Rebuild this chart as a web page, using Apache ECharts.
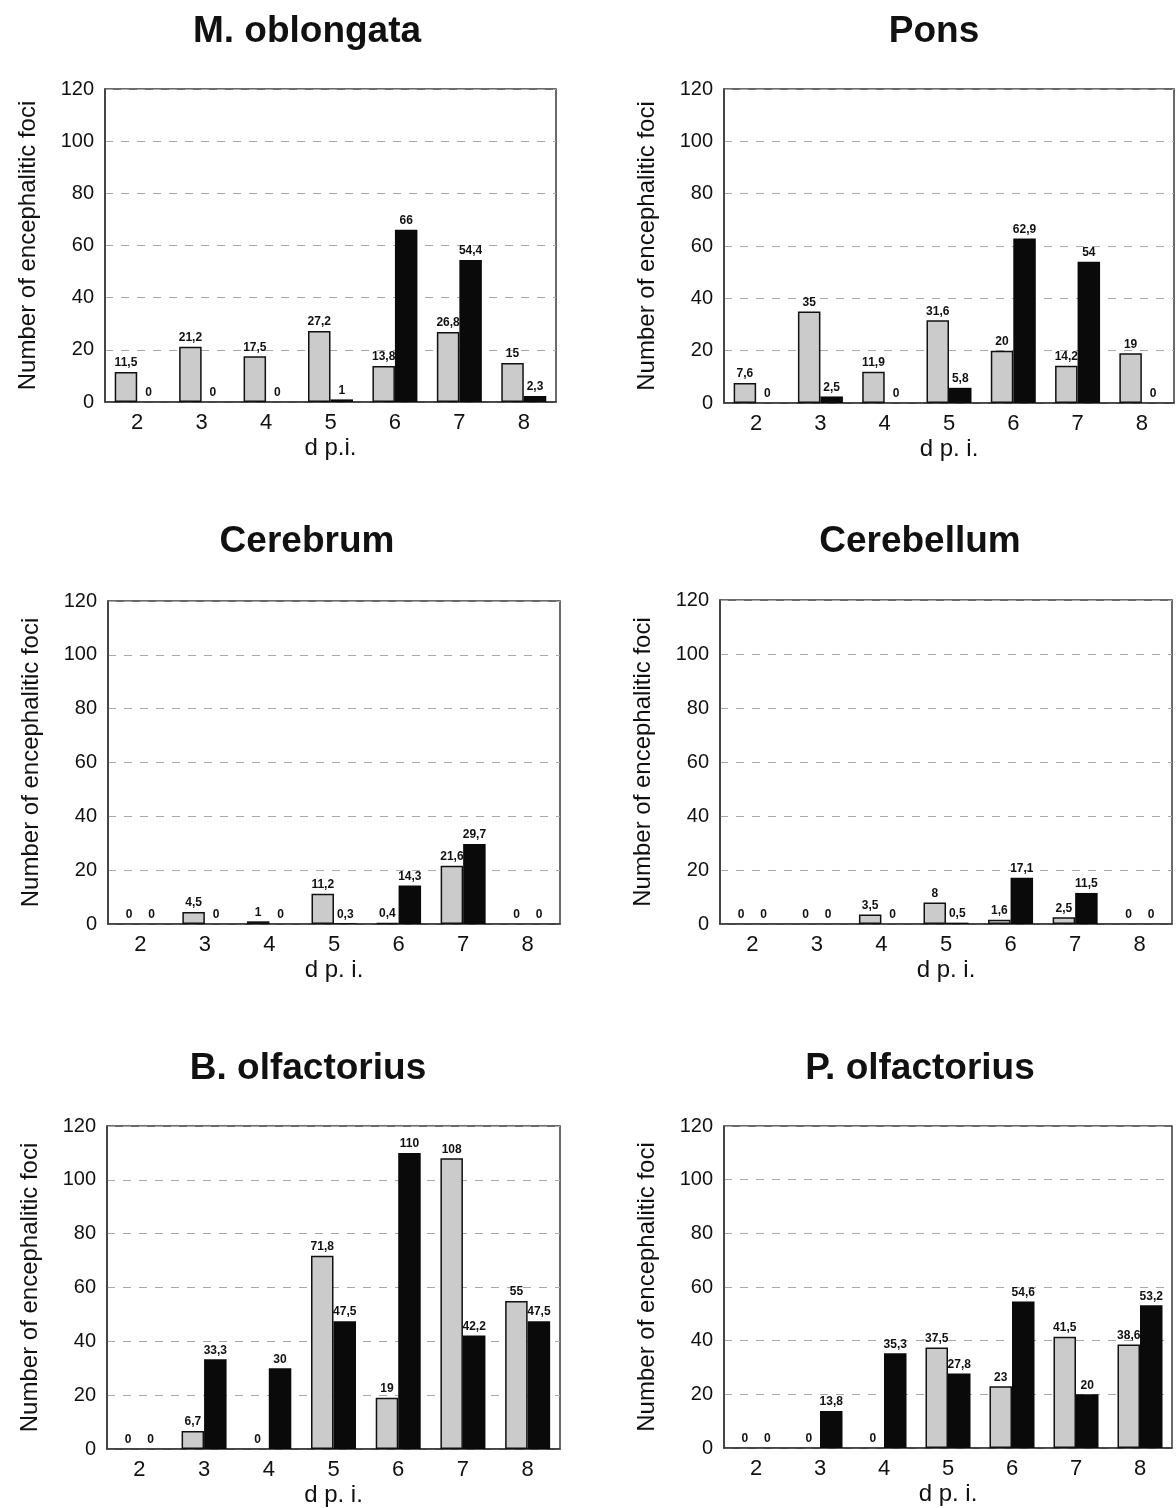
<!DOCTYPE html>
<html>
<head>
<meta charset="utf-8">
<script src="https://cdn.jsdelivr.net/npm/echarts@6/dist/echarts.min.js"></script>
<style>
  html, body { margin: 0; padding: 0; background: #ffffff; }
  #chart { width: 1176px; height: 1508px; }
</style>
</head>
<body>
<div id="chart"></div>
<script>
const days = ["2", "3", "4", "5", "6", "7", "8"];
const yTicks = [0, 20, 40, 60, 80, 100, 120];

const panelTitles = ["M. oblongata", "Pons", "Cerebrum", "Cerebellum", "B. olfactorius", "P. olfactorius"];
const xNames = ["d p.i.", "d p. i.", "d p. i.", "d p. i.", "d p. i.", "d p. i."];

// gray bars / black bars per region
const oblongataGray = [11.5, 21.2, 17.5, 27.2, 13.8, 26.8, 15];
const oblongataBlack = [0, 0, 0, 1, 66, 54.4, 2.3];
const ponsGray = [7.6, 35, 11.9, 31.6, 20, 14.2, 19];
const ponsBlack = [0, 2.5, 0, 5.8, 62.9, 54, 0];
const cerebrumGray = [0, 4.5, 1, 11.2, 0.4, 21.6, 0];
const cerebrumBlack = [0, 0, 0, 0.3, 14.3, 29.7, 0];
const cerebellumGray = [0, 0, 3.5, 8, 1.6, 2.5, 0];
const cerebellumBlack = [0, 0, 0, 0.5, 17.1, 11.5, 0];
const bulbusGray = [0, 6.7, 0, 71.8, 19, 108, 55];
const bulbusBlack = [0, 33.3, 30, 47.5, 110, 42.2, 47.5];
const pedunculusGray = [0, 0, 0, 37.5, 23, 41.5, 38.6];
const pedunculusBlack = [0, 13.8, 35.3, 27.8, 54.6, 20, 53.2];

const grayData = [oblongataGray, ponsGray, cerebrumGray, cerebellumGray, bulbusGray, pedunculusGray];
const blackData = [oblongataBlack, ponsBlack, cerebrumBlack, cerebellumBlack, bulbusBlack, pedunculusBlack];

// plot boxes [left, top, width, height] and title positions
const boxes = [
  [105, 89, 451, 313],
  [724, 89, 450, 314],
  [108, 601, 452, 323],
  [720, 600, 452, 324],
  [107, 1126, 453, 323],
  [724, 1126, 448, 322]
];
const titlePos = [[302, 8], [929, 8], [302, 518], [915, 518], [303, 1045], [915, 1045]];

const font = "Liberation Sans, Arial, sans-serif";
const chart = echarts.init(document.getElementById("chart"));

const labelFmt = (p) => String(p.value).replace(".", ",");

const grids = [], xAxes = [], yAxes = [], series = [], titles = [];
boxes.forEach((b, i) => {
  grids.push({
    left: b[0], top: b[1], width: b[2], height: b[3],
    show: true, borderColor: "#3a3a3a", borderWidth: 1.5, backgroundColor: "transparent"
  });
  titles.push({
    text: panelTitles[i], left: titlePos[i][0], top: titlePos[i][1], textAlign: "center",
    textStyle: { fontFamily: font, fontSize: 37, fontWeight: "bold", color: "#111" }
  });
  xAxes.push({
    type: "category", gridIndex: i, data: days,
    axisTick: { show: false },
    axisLine: { lineStyle: { color: "#3a3a3a", width: 1.5 } },
    axisLabel: { fontFamily: font, fontSize: 22, color: "#111", margin: 10 },
    name: xNames[i], nameLocation: "middle", nameGap: 34,
    nameTextStyle: { fontFamily: font, fontSize: 24, color: "#111" }
  });
  yAxes.push({
    type: "value", gridIndex: i, min: yTicks[0], max: yTicks[yTicks.length - 1], interval: 20,
    axisLine: { show: true, lineStyle: { color: "#3a3a3a", width: 1.5 } },
    axisTick: { show: false },
    axisLabel: { fontFamily: font, fontSize: 20, color: "#111", margin: 11 },
    splitLine: { lineStyle: { color: "#a8a8a8", type: [8, 8], width: 1 } },
    name: "Number of encephalitic foci", nameLocation: "middle", nameGap: 65, nameRotate: 90,
    nameTextStyle: { fontFamily: font, fontSize: 24, color: "#111" }
  });
  const lbl = {
    show: true, position: "top", distance: 3, formatter: labelFmt,
    fontFamily: font, fontSize: 12, fontWeight: "bold", color: "#111"
  };
  series.push({
    type: "bar", xAxisIndex: i, yAxisIndex: i, barWidth: 22.5, barGap: "0%",
    data: grayData[i].map(v => v === 0 ? { value: v, itemStyle: { borderWidth: 0 } } : v),
    itemStyle: { color: "#cbcbcb", borderColor: "#111", borderWidth: 1.5 },
    label: lbl, silent: true
  });
  series.push({
    type: "bar", xAxisIndex: i, yAxisIndex: i, barWidth: 22.5, barGap: "0%",
    data: blackData[i],
    itemStyle: { color: "#0a0a0a" },
    label: lbl, silent: true
  });
});

chart.setOption({
  animation: false,
  backgroundColor: "#ffffff",
  title: titles,
  grid: grids,
  xAxis: xAxes,
  yAxis: yAxes,
  series: series
});
</script>
</body>
</html>
